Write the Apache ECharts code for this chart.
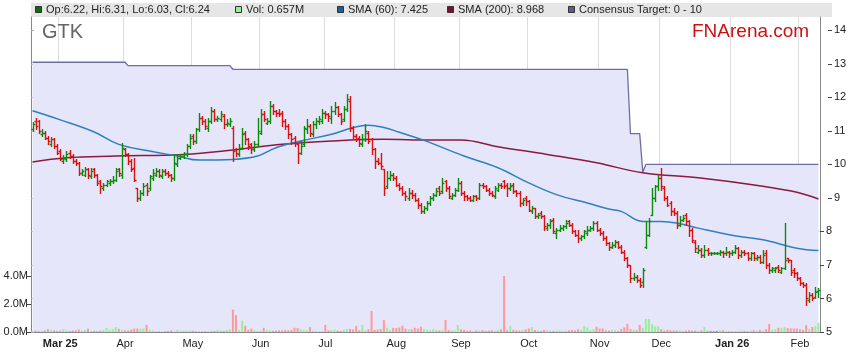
<!DOCTYPE html>
<html><head><meta charset="utf-8">
<script src="https://cdn.jsdelivr.net/npm/echarts@6/dist/echarts.min.js"></script>
<style>html,body{margin:0;padding:0;background:#fff}#c{width:859px;height:363px}</style>
</head><body><div id="c"></div>
<script>
// ---------- data ----------
const firstDay = '2025-02-18';   // first trading day shown (weekdays only)
const barCount = 256;
const monthTickLabels = ['Mar 25','Apr','May','Jun','Jul','Aug','Sep','Oct','Nov','Dec','Jan 26','Feb'];
const boldTickLabels = ['Mar 25','Jan 26'];
const priceTicksLower = [5,6,7,8];
const priceTicksUpper = [9,10,11,12,13,14];
const priceTicks = [5,6,7,8,9,10,11,12,13,14];
const volumeTicks = [0,2,4]; // millions

const opens = [
11.05,11.3,11.3,10.9,10.95,10.8,10.6,10.75,10.55,10.4,
10.1,10.15,10.35,10.25,10.1,10.05,9.75,9.7,9.85,9.65,9.85,
9.7,9.5,9.3,9.4,9.45,9.5,9.55,9.85,9.7,10.45,
10.3,10.1,9.9,9.3,9.0,9.15,9.4,9.3,9.6,9.7,
9.8,9.65,9.8,9.75,9.7,9.6,10.0,10.2,10.25,10.3,10.55,
10.85,10.7,11.05,11.4,11.3,11.1,11.3,11.6,11.35,11.35,
11.45,11.2,11.2,11.1,10.45,10.3,10.5,10.95,10.75,10.6,
10.45,10.6,10.95,11.5,11.25,11.3,11.75,11.6,11.55,11.55,11.3,
11.15,10.9,10.8,10.6,10.35,10.6,11.05,11.15,10.9,11.2,
11.3,11.3,11.55,11.5,11.4,11.6,11.7,11.5,11.35,11.65,
11.9,11.1,10.85,10.8,10.6,10.75,10.95,10.75,10.45,10.1,10.05,
9.85,9.35,9.6,9.7,9.6,9.4,9.3,9.15,9.0,9.15,
9.1,8.95,8.8,8.6,8.7,8.85,9.0,9.1,9.3,9.2,
9.5,9.3,9.0,9.1,9.25,9.45,9.15,9.05,9.0,8.95,9.05,
9.0,9.4,9.35,9.25,9.15,9.05,9.25,9.4,9.5,9.4,
9.3,9.4,9.2,9.15,8.85,9.0,8.9,8.6,8.7,8.45,
8.55,8.45,8.1,8.2,8.35,7.95,8.05,8.1,8.15,8.3,
8.2,8.0,7.9,7.8,7.85,7.95,8.05,8.1,8.25,8.05,7.95,
7.8,7.65,7.55,7.6,7.7,7.55,7.4,7.2,7.0,6.6,
6.65,6.55,6.5,7.55,7.9,8.5,9.0,9.35,9.6,9.3,
9.0,8.85,8.6,8.55,8.2,8.35,8.5,8.3,8.05,7.7,7.4,
7.45,7.3,7.45,7.35,7.35,7.35,7.35,7.4,7.35,7.4,
7.35,7.4,7.5,7.3,7.4,7.35,7.2,7.35,7.2,7.25,
7.1,7.35,7.0,6.85,6.85,6.95,6.8,6.9,7.2,7.15,6.85,
6.75,6.6,6.45,6.4,5.95,6.1,6.05,6.22];
const highs = [
11.28,11.4,11.32,11.05,11.0,10.85,10.82,10.8,10.6,10.45,
10.28,10.4,10.42,10.3,10.15,10.08,9.85,9.92,9.9,9.88,9.9,
9.72,9.55,9.45,9.55,9.58,9.65,9.9,9.9,10.65,10.5,
10.35,10.15,10.2,9.3,9.25,9.45,9.45,9.7,9.85,9.9,
9.85,9.85,9.85,9.8,9.72,10.3,10.3,10.3,10.38,10.6,10.9,
10.9,11.1,11.55,11.45,11.35,11.4,11.7,11.65,11.45,11.6,
11.5,11.35,11.38,11.15,10.5,10.6,11.1,11.0,10.8,10.65,
10.7,11.4,11.65,11.6,11.4,11.9,11.8,11.62,11.65,11.6,11.35,
11.2,10.95,10.85,10.65,10.7,11.15,11.35,11.2,11.3,11.38,
11.45,11.65,11.6,11.55,11.75,11.85,11.75,11.55,11.75,12.1,
12.05,11.15,10.9,10.85,10.9,11.2,11.0,10.8,10.5,10.2,10.35,
9.85,9.8,9.8,9.75,9.65,9.45,9.35,9.2,9.3,9.25,
9.15,9.0,8.85,8.75,8.9,9.05,9.15,9.3,9.35,9.6,
9.55,9.35,9.15,9.3,9.6,9.5,9.2,9.1,9.05,9.08,9.1,
9.45,9.45,9.4,9.3,9.2,9.35,9.45,9.45,9.55,9.45,
9.45,9.45,9.25,9.2,9.0,9.05,8.95,8.75,8.7,8.55,
8.6,8.5,8.25,8.38,8.4,8.1,8.2,8.2,8.35,8.35,
8.25,8.05,8.05,7.9,8.05,8.15,8.15,8.3,8.3,8.1,8.0,
7.85,7.7,7.7,7.75,7.72,7.6,7.45,7.25,7.0,6.75,
6.7,6.6,6.9,8.3,8.4,9.3,9.4,9.7,9.9,9.35,
9.05,8.9,8.7,8.6,8.45,8.5,8.55,8.35,8.1,7.75,7.6,
7.5,7.6,7.5,7.4,7.38,7.38,7.45,7.42,7.55,7.42,
7.45,7.6,7.55,7.45,7.45,7.4,7.4,7.4,7.3,7.3,
7.45,7.45,7.05,6.95,6.95,7.0,6.95,8.25,7.2,7.15,6.9,
6.8,6.65,6.5,6.45,6.2,6.15,6.35,6.31];
const lows = [
11.0,11.05,10.95,10.85,10.75,10.62,10.55,10.5,10.3,10.12,
10.05,10.1,10.2,10.05,9.98,9.7,9.68,9.65,9.6,9.6,9.62,
9.4,9.15,9.25,9.35,9.4,9.45,9.5,9.65,9.6,10.25,
10.0,9.8,9.5,8.92,8.95,9.1,9.1,9.25,9.55,9.65,
9.62,9.6,9.7,9.62,9.5,9.55,9.95,10.15,10.2,10.25,10.5,
10.6,10.65,11.0,11.2,11.05,11.0,11.25,11.3,11.3,11.3,
11.1,11.15,11.15,10.1,10.25,10.25,10.45,10.6,10.45,10.35,
10.4,10.55,10.9,11.3,11.2,11.25,11.5,11.45,11.45,11.15,11.05,
10.8,10.6,10.55,10.05,10.3,10.55,10.95,10.85,10.85,11.1,
11.2,11.25,11.4,11.3,11.25,11.5,11.45,11.2,11.3,11.6,
11.0,10.8,10.7,10.55,10.55,10.7,10.65,10.3,9.9,10.0,9.85,
9.1,9.3,9.55,9.55,9.35,9.25,9.1,8.95,8.95,9.0,
8.9,8.7,8.55,8.55,8.65,8.8,8.95,9.05,9.1,9.15,
9.2,9.0,8.98,9.05,9.2,9.1,8.95,8.95,8.9,8.92,8.95,
8.98,9.3,9.2,9.1,9.05,9.0,9.2,9.3,9.3,9.05,
9.25,9.15,9.05,8.75,8.8,8.8,8.6,8.55,8.4,8.4,
8.4,8.05,8.05,8.1,7.95,7.8,8.0,8.05,8.1,8.15,
7.95,7.85,7.7,7.75,7.8,7.9,8.0,8.05,8.0,7.9,7.75,
7.6,7.45,7.5,7.55,7.5,7.35,7.15,6.95,6.5,6.55,
6.5,6.33,6.35,7.5,7.85,8.5,8.9,9.25,9.25,8.95,
8.75,8.5,8.5,8.1,8.15,8.3,8.2,7.85,7.7,7.4,7.35,
7.25,7.25,7.3,7.3,7.32,7.32,7.3,7.25,7.3,7.25,
7.3,7.35,7.2,7.25,7.3,7.15,7.15,7.15,7.15,7.05,
7.05,6.9,6.75,6.8,6.8,6.8,6.75,6.88,7.1,6.7,6.65,
6.55,6.4,6.35,5.8,5.9,5.95,6.0,6.03];
const closes = [
11.2,11.15,11.0,10.95,10.8,10.7,10.75,10.55,10.35,10.15,
10.2,10.3,10.25,10.1,10.05,9.75,9.8,9.85,9.7,9.8,9.7,
9.45,9.35,9.4,9.5,9.5,9.55,9.8,9.75,10.5,10.3,
10.1,9.85,9.55,9.0,9.15,9.35,9.2,9.65,9.75,9.8,
9.7,9.8,9.75,9.7,9.6,10.05,10.2,10.25,10.3,10.55,10.8,
10.7,11.05,11.4,11.3,11.15,11.3,11.6,11.35,11.4,11.5,
11.2,11.25,11.3,10.4,10.35,10.5,10.9,10.75,10.55,10.45,
10.6,11.0,11.5,11.35,11.3,11.75,11.6,11.55,11.5,11.3,11.15,
10.9,10.75,10.65,10.35,10.55,11.1,11.15,10.95,11.2,11.3,
11.35,11.55,11.5,11.45,11.6,11.7,11.5,11.3,11.65,11.95,
11.1,10.85,10.75,10.65,10.75,11.0,10.7,10.45,10.1,10.05,9.95,
9.3,9.6,9.7,9.6,9.4,9.3,9.15,9.05,9.15,9.1,
8.95,8.8,8.6,8.7,8.85,9.0,9.1,9.2,9.15,9.45,
9.3,9.05,9.1,9.25,9.45,9.15,9.05,9.0,8.95,9.05,9.0,
9.4,9.35,9.25,9.15,9.1,9.3,9.4,9.35,9.35,9.3,
9.35,9.2,9.15,8.85,8.95,8.9,8.65,8.7,8.45,8.5,
8.45,8.15,8.2,8.3,8.0,8.05,8.1,8.15,8.25,8.2,
8.0,7.9,7.8,7.85,8.0,8.05,8.1,8.25,8.05,7.95,7.8,
7.65,7.55,7.6,7.7,7.55,7.4,7.2,7.0,6.6,6.65,
6.55,6.4,6.85,7.9,8.3,9.0,9.35,9.6,9.35,9.0,
8.8,8.6,8.55,8.2,8.35,8.4,8.3,8.05,7.75,7.5,7.45,
7.3,7.45,7.35,7.35,7.35,7.35,7.4,7.35,7.4,7.35,
7.4,7.5,7.3,7.4,7.35,7.2,7.35,7.2,7.25,7.1,
7.3,7.0,6.85,6.9,6.9,6.85,6.9,7.15,7.15,6.8,6.75,
6.6,6.45,6.4,6.0,6.1,6.0,6.2,6.24];
const volumesM = [
0.08,0.1,0.07,0.09,0.12,0.2,0.15,0.12,0.08,0.1,
0.2,0.12,0.08,0.1,0.12,0.18,0.1,0.15,0.24,0.1,0.08,
0.06,0.1,0.15,0.3,0.15,0.2,0.36,0.22,0.15,0.12,
0.12,0.18,0.25,0.25,0.22,0.25,0.5,0.15,0.1,0.06,
0.05,0.04,0.06,0.08,0.12,0.05,0.15,0.08,0.12,0.1,0.1,
0.1,0.08,0.06,0.04,0.06,0.05,0.1,0.08,0.15,0.12,
0.08,0.15,0.2,1.6,1.2,0.12,0.8,0.45,0.15,0.25,
0.12,0.08,0.1,0.3,0.15,0.12,0.08,0.1,0.12,0.12,0.15,
0.12,0.15,0.3,0.28,0.2,0.15,0.12,0.35,0.1,0.08,
0.05,0.08,0.5,0.12,0.15,0.15,0.1,0.08,0.15,0.2,
0.22,0.18,0.43,0.12,0.5,0.1,0.2,1.5,0.15,0.18,0.2,
0.85,0.3,0.15,0.3,0.28,0.32,0.45,0.25,0.2,0.18,
0.3,0.25,0.38,0.2,0.15,0.12,0.2,0.15,0.1,0.12,
0.85,0.15,0.1,0.12,0.5,0.2,0.15,0.1,0.12,0.08,0.1,
0.1,0.12,0.08,0.1,0.12,0.08,0.15,0.2,4.0,0.12,
0.43,0.15,0.12,0.1,0.15,0.18,0.25,0.35,0.15,0.1,
0.08,0.15,0.12,0.1,0.08,0.1,0.12,0.08,0.1,0.12,
0.15,0.12,0.2,0.15,0.43,0.33,0.15,0.2,0.38,0.25,0.25,
0.12,0.1,0.15,0.12,0.08,0.2,0.33,0.57,0.2,0.15,
0.12,0.5,0.3,0.93,0.93,0.57,0.4,0.4,0.2,0.1,
0.15,0.12,0.1,0.1,0.12,0.08,0.1,0.12,0.1,0.1,0.08,
0.12,0.35,0.08,0.07,0.06,0.08,0.12,0.12,0.06,0.05,
0.08,0.06,0.05,0.1,0.08,0.06,0.1,0.12,0.08,0.15,
0.1,0.2,0.57,0.15,0.2,0.3,0.3,0.35,0.28,0.25,0.25,
0.25,0.2,0.15,0.5,0.2,0.35,0.43,0.657];
// SMA values: [bar index, value]
const sma60 = [[0,11.6],[9,11.33],[20,10.97],[28,10.6],[38,10.4],[47,10.25],[54,10.13],[65,10.15],[73,10.25],[79,10.5],[87,10.7],[97,10.9],[104,11.1],[109,11.17],[114,11.1],[119,10.96],[126,10.75],[129,10.65],[140,10.25],[151,9.9],[161,9.45],[170,9.1],[180,8.85],[187,8.67],[191,8.6],[198,8.3],[204,8.3],[209,8.25],[216,8.1],[226,7.9],[237,7.75],[248,7.5],[255,7.43]];
const sma200 = [[0,10.07],[11,10.2],[27,10.25],[49,10.3],[65,10.43],[81,10.6],[97,10.7],[114,10.75],[129,10.73],[139,10.73],[151,10.53],[167,10.3],[183,10.05],[198,9.75],[216,9.6],[237,9.35],[248,9.17],[255,8.97]];
// consensus target as runs: [value, number of bars]
const consensusRuns = [[13.05,31],[12.95,34],[12.84,129],[10.92,4],[9.77,1],[10.0,57]];
const legendTexts = ['Op:6.22, Hi:6.31, Lo:6.03, Cl:6.24','Vol: 0.657M','SMA (60): 7.425','SMA (200): 8.968','Consensus Target: 0 - 10'];

// ---------- build ----------
const dates = [];
(function(){
  const d = new Date(firstDay + 'T00:00:00Z');
  while (dates.length < barCount) {
    const wd = d.getUTCDay();
    if (wd !== 0 && wd !== 6) dates.push(d.toISOString().slice(0,10));
    d.setUTCDate(d.getUTCDate() + 1);
  }
})();
const monthLabelAt = {};
let mi = 0;
for (let j = 1; j < dates.length; j++) {
  if (dates[j].slice(0,7) !== dates[j-1].slice(0,7)) { monthLabelAt[j] = monthTickLabels[mi++]; }
}
const consensus = [];
consensusRuns.forEach(([v,n]) => { for (let k = 0; k < n; k++) consensus.push(v); });
const ohlc = dates.map((d,j) => [j, opens[j], highs[j], lows[j], closes[j]]);

const FONT = 'Liberation Sans, Arial, Helvetica, sans-serif';
const UP = '#0a8a0a', DOWN = '#dd0f0f';
const GL = 31, GT = 17, GW = 789, GH = 315;

const chart = echarts.init(document.getElementById('c'), null, {renderer: 'canvas'});
const legendItems = [
  {x:35, color:'#0b6e0b', text:legendTexts[0]},
  {x:235, color:'#99ee99', text:legendTexts[1]},
  {x:337, color:'#1a5f9e', text:legendTexts[2]},
  {x:447, color:'#7d1030', text:legendTexts[3]},
  {x:568, color:'#5c5c8e', text:legendTexts[4]}
];
const graphics = [{type:'rect', shape:{x:GL, y:3, width:801, height:14}, style:{fill:'#e6e6e6'}, z:0}];
legendItems.forEach(it => {
  graphics.push({type:'rect', shape:{x:it.x+0.5, y:6.5, width:6, height:6}, style:{fill:it.color, stroke:'#333', lineWidth:1}, z:10});
  graphics.push({type:'text', x:it.x+11, y:10, style:{text:it.text, font:'11px '+FONT, fill:'#222', textVerticalAlign:'middle'}, z:10});
});
graphics.push({type:'text', x:42, y:32.5, style:{text:'GTK', font:'20px '+FONT, fill:'#666', textVerticalAlign:'middle'}, z:10});
graphics.push({type:'text', x:692, y:32, style:{text:'FNArena.com', font:'19px '+FONT, fill:'#cc1111', textVerticalAlign:'middle'}, z:10});

chart.setOption({
  animation: false,
  backgroundColor: '#fff',
  grid: {left: GL, top: GT, width: GW, height: GH, containLabel: false},
  xAxis: {
    type: 'category', data: dates, boundaryGap: true,
    axisLine: {lineStyle: {color: '#888'}},
    axisTick: {show: false},
    axisLabel: {
      interval: (j) => monthLabelAt[j] !== undefined,
      formatter: (v, j) => { const t = monthLabelAt[j]; if (!t) return ''; return boldTickLabels.includes(t) ? '{b|' + t + '}' : t; },
      fontFamily: FONT, fontSize: 11, color: '#222', margin: 6,
      rich: {b: {fontWeight: 'bold', fontFamily: FONT, fontSize: 11, color: '#222'}}
    },
    splitLine: {show: true, interval: (j) => monthLabelAt[j] !== undefined, lineStyle: {color: '#dcdcdc', width: 1}}
  },
  yAxis: [
    {type: 'value', position: 'right', min: 5, max: 14.4, interval: 1,
     axisLine: {show: true, lineStyle: {color: '#888'}},
     axisTick: {show: true, length: 4, lineStyle: {color: '#444'}, customValues: priceTicksLower},
     axisLabel: {customValues: priceTicksLower, fontFamily: FONT, fontSize: 11, color: '#222', margin: 6},
     splitLine: {show: true, lineStyle: {color: '#dcdcdc'}}},
    {type: 'value', position: 'left', min: 0, max: 22.5, interval: 2,
     axisLine: {show: true, lineStyle: {color: '#888'}},
     axisTick: {show: true, length: 4, lineStyle: {color: '#444'}, customValues: volumeTicks},
     axisLabel: {customValues: volumeTicks, formatter: v => v.toFixed(1) + 'M', fontFamily: FONT, fontSize: 11, color: '#222', margin: 3},
     splitLine: {show: false}},
    {type: 'value', position: 'left', min: 5, max: 14.4, interval: 1,
     axisLine: {show: false},
     axisTick: {show: true, inside: true, length: 3, lineStyle: {color: '#aaa'}, customValues: priceTicks},
     axisLabel: {show: false}, splitLine: {show: false}},
    {type: 'value', position: 'right', offset: 8, min: 5, max: 14.4, interval: 1,
     axisLine: {show: false},
     axisTick: {show: true, length: 4, lineStyle: {color: '#444'}, customValues: priceTicksUpper},
     axisLabel: {customValues: priceTicksUpper, fontFamily: FONT, fontSize: 11, color: '#222', margin: 6},
     splitLine: {show: false}}
  ],
  graphic: graphics,
  series: [
    {name: 'Consensus', type: 'line', yAxisIndex: 0, data: consensus, symbol: 'none', z: 1,
     lineStyle: {color: '#6e6ea6', width: 1.3}, areaStyle: {color: '#e6e6fa', opacity: 1, origin: 'start'}},
    {name: 'Vol', type: 'bar', yAxisIndex: 1, data: volumesM, barWidth: 2, z: 2,
     itemStyle: {color: p => { const j = p.dataIndex; return closes[j] > opens[j] ? '#99ee99' : (closes[j] < opens[j] ? '#ff9999' : '#999999'); }}},
    {name: 'SMA200', type: 'line', yAxisIndex: 0, data: sma200, symbol: 'none', smooth: 0.4, z: 3,
     lineStyle: {color: '#8b1a40', width: 1.5}},
    {name: 'SMA60', type: 'line', yAxisIndex: 0, data: sma60, symbol: 'none', smooth: 0.4, z: 3,
     lineStyle: {color: '#2f7fc0', width: 1.5}},
    {name: 'OHLC', type: 'custom', yAxisIndex: 0, data: ohlc, z: 4,
     dimensions: ['i','open','high','low','close'],
     encode: {x: 0, y: [1,2,3,4]},
     renderItem: (params, api) => {
       const j = api.value(0);
       const o = api.value(1), h = api.value(2), l = api.value(3), c = api.value(4);
       const pH = api.coord([j, h]), pL = api.coord([j, l]), pO = api.coord([j, o]), pC = api.coord([j, c]);
       const x = Math.round(pH[0]) + 0.5;
       const col = c >= o ? UP : DOWN;
       const st = {stroke: col, lineWidth: 1.4};
       const yo = Math.round(pO[1]) + 0.5, yc = Math.round(pC[1]) + 0.5;
       return {type: 'group', children: [
         {type: 'line', shape: {x1: x, y1: Math.round(pH[1]), x2: x, y2: Math.round(pL[1]) + 1}, style: st},
         {type: 'line', shape: {x1: x - 2, y1: yo, x2: x, y2: yo}, style: st},
         {type: 'line', shape: {x1: x, y1: yc, x2: x + 2, y2: yc}, style: st}
       ]};
     }}
  ]
});
</script></body></html>
